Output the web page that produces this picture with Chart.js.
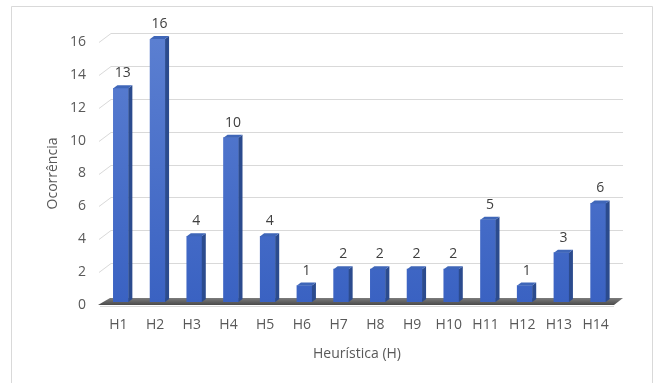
<!DOCTYPE html>
<html>
<head>
<meta charset="utf-8">
<script src="https://cdn.jsdelivr.net/npm/chart.js@4.4.1/dist/chart.umd.min.js"></script>
<style>
  html, body { margin: 0; padding: 0; background: #ffffff; }
  canvas { display: block; }
</style>
</head>
<body>
<canvas id="chart" width="654" height="383"></canvas>
<script>
// Occurrences of each usability heuristic (H1..H14)
const categories = ['H1', 'H2', 'H3', 'H4', 'H5', 'H6', 'H7', 'H8', 'H9', 'H10', 'H11', 'H12', 'H13', 'H14'];
const occurrences = [13, 16, 4, 10, 4, 1, 2, 2, 2, 2, 5, 1, 3, 6];
const yTickValues = [0, 2, 4, 6, 8, 10, 12, 14, 16];

const TEXT = '#595959';
const FONT = "'Open Sans', 'Liberation Sans', sans-serif";
const FONT_SIZE = 14;

// depth of the back wall and of each column (pseudo 3D)
const WALL_DX = 12, WALL_DY = 9;
const COL_DX = 4, COL_DY = 3;
const SHIFT_X = 2.5, SHIFT_Y = -3;

const pseudo3d = {
  id: 'pseudo3d',
  beforeDraw(chart) {
    const ctx = chart.ctx;
    ctx.save();
    ctx.fillStyle = '#ffffff';
    ctx.fillRect(0, 0, chart.width, chart.height);
    ctx.strokeStyle = '#d9d9d9';
    ctx.lineWidth = 1;
    ctx.beginPath();
    ctx.moveTo(11.5, chart.height + 2);
    ctx.lineTo(11.5, 6.5);
    ctx.lineTo(652.5, 6.5);
    ctx.lineTo(652.5, chart.height + 2);
    ctx.stroke();
    ctx.restore();
  },
  beforeDatasetsDraw(chart) {
    const ctx = chart.ctx;
    const { left, right } = chart.chartArea;
    const y = chart.scales.y;
    ctx.save();
    // back wall gridlines with their side stubs
    ctx.strokeStyle = '#d9d9d9';
    ctx.lineWidth = 1;
    y.ticks.forEach(t => {
      if (t.value === 0) return;
      const py = Math.round(y.getPixelForValue(t.value)) + 0.5;
      ctx.beginPath();
      ctx.moveTo(left - 1, py);
      ctx.lineTo(left - 1 + WALL_DX, py - WALL_DY);
      ctx.lineTo(right + WALL_DX - 3, py - WALL_DY);
      ctx.stroke();
    });
    // floor
    const by = y.getPixelForValue(0);
    ctx.strokeStyle = '#d9d9d9';
    ctx.beginPath();
    ctx.moveTo(left, by + 1.5);
    ctx.lineTo(right, by + 1.5);
    ctx.stroke();
    const g = ctx.createLinearGradient(0, by - WALL_DY, 0, by);
    g.addColorStop(0, '#8a8a8a');
    g.addColorStop(1, '#4a4a4a');
    ctx.fillStyle = g;
    ctx.beginPath();
    ctx.moveTo(left - 2, by);
    ctx.lineTo(right, by);
    ctx.lineTo(right + WALL_DX - 3, by - WALL_DY + 2);
    ctx.lineTo(left + WALL_DX - 2, by - WALL_DY + 2);
    ctx.closePath();
    ctx.fill();
    ctx.restore();

    ctx.save();
    ctx.translate(SHIFT_X, SHIFT_Y);
  },
  afterDatasetsDraw(chart) {
    const ctx = chart.ctx;
    const meta = chart.getDatasetMeta(0);
    meta.data.forEach((bar, i) => {
      const { x, y, base, width } = bar.getProps(['x', 'y', 'base', 'width'], true);
      const l = x - width / 2, r = x + width / 2;
      // side face
      ctx.fillStyle = '#2b4b8e';
      ctx.beginPath();
      ctx.moveTo(r, y);
      ctx.lineTo(r + COL_DX, y - COL_DY);
      ctx.lineTo(r + COL_DX, base - COL_DY);
      ctx.lineTo(r, base);
      ctx.closePath();
      ctx.fill();
      // top face
      ctx.fillStyle = '#3f66b8';
      ctx.beginPath();
      ctx.moveTo(l, y);
      ctx.lineTo(l + COL_DX, y - COL_DY);
      ctx.lineTo(r + COL_DX, y - COL_DY);
      ctx.lineTo(r, y);
      ctx.closePath();
      ctx.fill();
      // value label
      ctx.fillStyle = '#404040';
      ctx.font = FONT_SIZE + "px " + FONT;
      ctx.textAlign = 'center';
      ctx.textBaseline = 'middle';
      ctx.fillText(String(occurrences[i]), x + 2, y - 15);
    });
    ctx.restore();
  }
};

new Chart(document.getElementById('chart'), {
  type: 'bar',
  data: {
    labels: categories,
    datasets: [{
      data: occurrences,
      barThickness: 15,
      borderWidth: 0,
      backgroundColor(context) {
        const { ctx, chartArea } = context.chart;
        if (!chartArea) return '#4472c4';
        const g = ctx.createLinearGradient(0, chartArea.top, 0, chartArea.bottom);
        g.addColorStop(0, '#5b7fd1');
        g.addColorStop(1, '#3a62c2');
        return g;
      }
    }]
  },
  options: {
    responsive: false,
    animation: false,
    devicePixelRatio: 1,
    layout: { padding: { left: 11, right: 40, top: 42, bottom: 0 } },
    plugins: { legend: { display: false }, tooltip: { enabled: false } },
    scales: {
      x: {
        grid: { display: false, drawTicks: false },
        border: { display: false },
        ticks: { color: TEXT, font: { family: FONT, size: FONT_SIZE }, padding: 12, maxRotation: 0 },
        title: { display: true, text: 'Heurística (H)', color: TEXT, font: { family: FONT, size: FONT_SIZE }, padding: { top: 0, bottom: 21 } },
        afterFit(scale) { scale.height = 78; }
      },
      y: {
        min: 0,
        max: 16,
        afterBuildTicks(scale) { scale.ticks = yTickValues.map(v => ({ value: v })); },
        grid: { display: false, drawTicks: false },
        border: { display: false },
        ticks: { color: TEXT, font: { family: FONT, size: FONT_SIZE }, padding: 14 },
        title: { display: true, text: 'Ocorrência', color: TEXT, font: { family: FONT, size: FONT_SIZE }, padding: { top: 34, bottom: 0 } },
        afterFit(scale) { scale.width = 89; }
      }
    }
  },
  plugins: [pseudo3d]
});
</script>
</body>
</html>
